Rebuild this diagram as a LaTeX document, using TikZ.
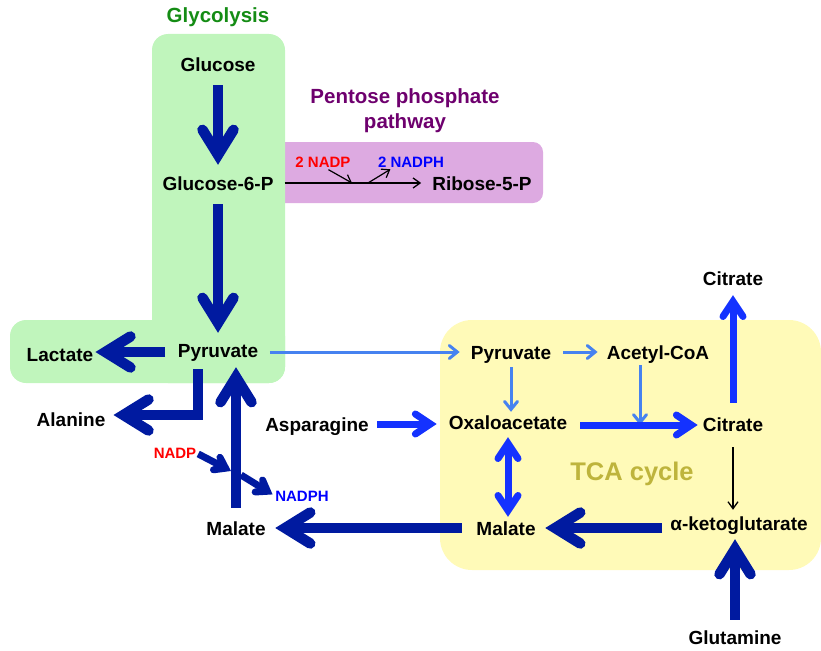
\documentclass[tikz,border=0pt]{standalone}
\usepackage{fontspec}
\setmainfont{Liberation Sans}
\usetikzlibrary{arrows.meta}
\definecolor{dkb}{RGB}{0,26,160}
\definecolor{mdb}{RGB}{20,50,255}
\definecolor{ltb}{RGB}{70,130,240}
\definecolor{grn}{RGB}{192,245,188}
\definecolor{pnk}{RGB}{221,170,225}
\definecolor{ylw}{RGB}{255,250,184}
\definecolor{gtxt}{RGB}{20,140,20}
\definecolor{ptxt}{RGB}{110,0,110}
\definecolor{ttxt}{RGB}{190,180,60}
\begin{document}
\begin{tikzpicture}[x=1pt,y=-1pt,
  lbl/.style={inner sep=0pt, font=\fontsize{19}{19}\selectfont\bfseries, text height=14pt, text depth=0pt},
  small/.style={inner sep=0pt, font=\fontsize{15}{15}\selectfont\bfseries, text height=11pt, text depth=0pt},
  ttl/.style={inner sep=0pt, font=\fontsize{20.5}{25}\selectfont\bfseries, align=center},
  dk/.style={color=dkb, line width=10.5pt, -{Straight Barb[length=25pt,width=31pt,line cap=round,line join=miter]}},
  dks/.style={color=dkb, line width=7pt, -{Straight Barb[length=10pt,width=14pt,line cap=round,line join=miter]}},
  md/.style={color=mdb, line width=7pt, -{Straight Barb[length=15pt,width=20pt,line cap=round,line join=miter]}},
  mdd/.style={color=mdb, line width=7pt, {Straight Barb[length=15pt,width=20pt,line cap=round,line join=miter]}-{Straight Barb[length=15pt,width=20pt,line cap=round,line join=miter]}},
  lt/.style={color=ltb, line width=3pt, -{Straight Barb[length=8pt,width=13pt,line cap=round,line join=miter]}},
  bk/.style={color=black, line width=1.3pt, -{Straight Barb[length=7pt,width=10pt]}}
]
\useasboundingbox (0,0) rectangle (821,650);
% backgrounds
\fill[pnk, rounded corners=10pt] (270,142) rectangle (543,203);
\fill[grn, rounded corners=16pt] (152,34) rectangle (285,383);
\fill[grn, rounded corners=16pt] (10,320) rectangle (285,383);
\fill[ylw, rounded corners=32pt] (440,320) rectangle (821,570);

% titles
\node[ttl, text=gtxt] (tglyc) at (218,17) {Glycolysis};
\node[ttl, text=ptxt] (tppp) at (405,111) {Pentose phosphate\\pathway};
\node[inner sep=0pt, font=\fontsize{25.5}{25.5}\selectfont\bfseries, text=ttxt] (ttca) at (632,474) {TCA cycle};

% nodes
\node[lbl] (glc) at (218,65) {Glucose};
\node[lbl] (g6p) at (218,183) {Glucose-6-P};
\node[lbl] (pyr) at (218,350) {Pyruvate};
\node[lbl] (lac) at (60,354) {Lactate};
\node[lbl] (ala) at (71,419) {Alanine};
\node[lbl] (mal1) at (236,528) {Malate};
\node[lbl] (asp) at (317,424) {Asparagine};
\node[lbl] (rib) at (482,183) {Ribose-5-P};
\node[small, text=red] (n2) at (323,162) {2 NADP};
\node[small, text=blue] (n3) at (411,162) {2 NADPH};
\node[small, text=red] (nadp) at (175,453) {NADP};
\node[small, text=blue] (nadph) at (302,496) {NADPH};
\node[lbl] (pyrt) at (511,352) {Pyruvate};
\node[lbl] (acoa) at (658,352) {Acetyl-CoA};
\node[lbl] (oxa) at (508,422) {Oxaloacetate};
\node[lbl] (cit) at (733,424) {Citrate};
\node[lbl] (cit2) at (733,278) {Citrate};
\node[lbl] (malt) at (506,528) {Malate};
\node[lbl] (akg) at (739,523) {α-ketoglutarate};
\node[lbl] (glu) at (735,637) {Glutamine};

% junction coordinates
\coordinate (j1) at (231,471);
\coordinate (j2) at (241,475);
\coordinate (j3) at (640,425);
\coordinate (j4) at (352,183);
\coordinate (j5) at (368,183);

% glycolysis
\draw[dk, shorten <=13pt, shorten >=11pt] (glc.south) -- (g6p.north);
\draw[dk, shorten <=14pt, shorten >=10pt] (g6p.south) -- (pyr.north);
\draw[dk, shorten <=12.5pt, shorten >=2pt] ([yshift=-2pt]pyr.west) -- ([yshift=2pt]lac.east);
\draw[dk, line join=miter] ([xshift=-20pt,yshift=-12pt]pyr.south) |- ([xshift=8pt,yshift=4pt]ala.east);
\draw[dk, shorten <=13pt, shorten >=10pt] (mal1.north) -- (mal1.north |- pyr.south);
\draw[dks, shorten <=2pt] (nadp.east) -- (j1);
\draw[dks, shorten >=3pt] (j2) -- (nadph.west);

% pentose phosphate
\draw[bk, shorten <=11pt, shorten >=11pt] (g6p.east) -- (rib.west);
\draw[bk, line width=1.2pt, shorten <=4pt] ([xshift=2pt]n2.south) -- (j4);
\draw[bk, line width=1.2pt, shorten >=3pt] (j5) -- ([xshift=-18pt]n3.south);

% to TCA
\draw[lt, shorten <=11.5pt, shorten >=11pt] ([yshift=-2pt]pyr.east) -- (pyrt.west);
\draw[lt, shorten <=12pt, shorten >=9pt] (pyrt.east) -- (acoa.west);
\draw[lt, shorten <=8pt, shorten >=3pt] (pyrt.south) -- (pyrt.south |- oxa.north);
\draw[lt, shorten <=6pt] (acoa.south -| j3) -- (j3);
\draw[md, shorten <=8.5pt, shorten >=12pt] (asp.east) -- (asp.east -| oxa.west);
\draw[md, shorten <=13pt, shorten >=5pt] ([yshift=-3pt]oxa.east) -- ([yshift=-1pt]cit.west);
\draw[mdd, shorten <=8pt, shorten >=4pt] (oxa.south) -- (oxa.south |- malt.north);
\draw[md, shorten <=14pt, shorten >=10pt] (cit.north) -- (cit2.south);
\draw[bk, shorten <=16pt, shorten >=6pt] (cit.south) -- (cit.south |- akg.north);
\draw[dk, shorten <=8pt, shorten >=9.5pt] ([yshift=-5pt]akg.west) -- (malt.east);
\draw[dk, shorten <=14.5pt, shorten >=9.5pt] (malt.west) -- (mal1.east);
\draw[dk, shorten <=10pt, shorten >=9pt] (glu.north) -- (glu.north |- akg.south);
\end{tikzpicture}
\end{document}
